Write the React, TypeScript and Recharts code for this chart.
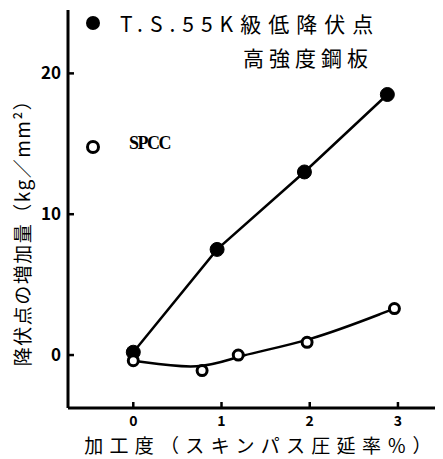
import React from 'react';
import { LineChart, Line, XAxis, YAxis, Label } from 'recharts';

// T.S.55K low-yield high-strength plate (filled dots)
const tsX = [0, 0.95, 1.94, 2.88];
const tsY = [0.2, 7.5, 13.0, 18.5];

// SPCC (open dots)
const spccX = [0, 0.78, 1.19, 1.97, 2.96];
const spccY = [-0.4, -1.1, 0.0, 0.9, 3.3];

const xTicks = [0, 1, 2, 3];
const yTicks = [0, 10, 20];

const tsLabel1 = 'T.S.55K級低降伏点';
const tsLabel2 = '高強度鋼板';
const spccLabel = 'SPCC';
const xTitle = '加工度（スキンパス圧延率％）';
const yTitle = '降伏点の増加量（kg／mm²）';

const tsData = tsX.map((x, i) => ({ x, y: tsY[i] }));
const spccData = spccX.map((x, i) => ({ x, y: spccY[i] }));

const FONT = '"Noto Sans CJK JP", "Noto Sans", sans-serif';

const XTick = ({ x, y, payload }: any) => (
  <g>
    <line x1={x} x2={x} y1={y - 8} y2={y - 14} stroke="#000" strokeWidth={2.5} />
    <text x={x} y={y + 10} textAnchor="middle" fontFamily={FONT} fontWeight={700} fontSize={14} fill="#000">
      {payload.value}
    </text>
  </g>
);

const YTick = ({ x, y, payload }: any) => (
  <g>
    <line x1={x + 8} x2={x + 14} y1={y} y2={y} stroke="#000" strokeWidth={2.5} />
    <text x={x + 1} y={y + 6} textAnchor="end" fontFamily={FONT} fontWeight={700} fontSize={17} fill="#000">
      {payload.value}
    </text>
  </g>
);

const LegendBox = () => (
  <div style={{ position: 'absolute', left: 0, top: 0, width: 443, height: 160, fontFamily: FONT, color: '#000', pointerEvents: 'none' }}>
    <span style={{ position: 'absolute', left: 86, top: 16, width: 14, height: 14, borderRadius: 7, background: '#000' }} />
    <span style={{ position: 'absolute', left: 120, top: 9, fontSize: 21, lineHeight: '28px', letterSpacing: 7, whiteSpace: 'nowrap' }}>{tsLabel1}</span>
    <span style={{ position: 'absolute', left: 243, top: 43, fontSize: 21, lineHeight: '28px', letterSpacing: 5, whiteSpace: 'nowrap' }}>{tsLabel2}</span>
    <span style={{ position: 'absolute', left: 86, top: 140, width: 8, height: 8, borderRadius: 7, border: '3px solid #000' }} />
    <span style={{ position: 'absolute', left: 129, top: 132, fontSize: 18, lineHeight: '22px', fontFamily: '"Liberation Serif", serif', fontWeight: 700, letterSpacing: -1.5 }}>{spccLabel}</span>
  </div>
);

export default function App() {
  return (
    <div style={{ position: 'absolute', left: 0, top: 0, width: 443, height: 459, background: '#fff' }}>
      <LineChart width={443} height={459} margin={{ top: 10, right: 8, bottom: 0, left: 0 }}>
        <XAxis
          type="number"
          dataKey="x"
          domain={[-0.74, 3.42]}
          ticks={xTicks}
          tickLine={false}
          tick={<XTick />}
          height={51}
          axisLine={{ stroke: '#000', strokeWidth: 3 }}
          allowDataOverflow
        >
          <Label
            content={() => (
              <text x={261} y={453} textAnchor="middle" fontFamily={FONT} fontSize={19} letterSpacing={6.3} fill="#000">
                {xTitle}
              </text>
            )}
          />
        </XAxis>
        <YAxis
          type="number"
          dataKey="y"
          domain={[-3.76, 24.5]}
          ticks={yTicks}
          tickLine={false}
          tick={<YTick />}
          width={68}
          axisLine={{ stroke: '#000', strokeWidth: 3 }}
          allowDataOverflow
        >
          <Label
            content={() => (
              <text
                x={30}
                y={228}
                transform="rotate(-90 30 228)"
                textAnchor="middle"
                fontFamily={FONT}
                fontSize={19}
                letterSpacing={1.5}
                fill="#000"
              >
                {yTitle}
              </text>
            )}
          />
        </YAxis>
        <Line
          data={tsData}
          dataKey="y"
          type="linear"
          stroke="#000"
          strokeWidth={2.5}
          dot={{ r: 7, fill: '#000', stroke: '#000', strokeWidth: 1 }}
          isAnimationActive={false}
        />
        <Line
          data={spccData}
          dataKey="y"
          type="basis"
          stroke="#000"
          strokeWidth={2.5}
          dot={{ r: 5, fill: '#fff', stroke: '#000', strokeWidth: 3 }}
          isAnimationActive={false}
        />
      </LineChart>
      <LegendBox />
    </div>
  );
}
